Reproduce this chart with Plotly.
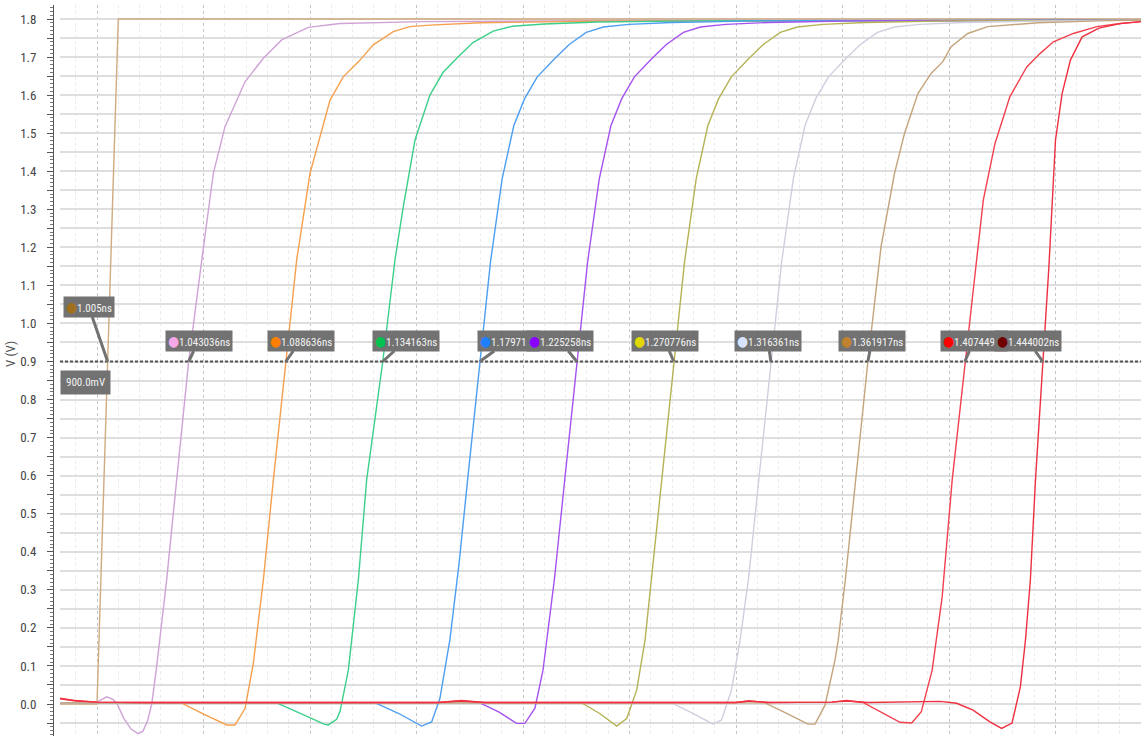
import numpy as np
import plotly.graph_objects as go

# ---------------------------------------------------------------------------
# Transient simulation: input step and ten delayed output edges (time in ns, V)
# ---------------------------------------------------------------------------
T_INPUT = [0.9826, 1.000, 1.010, 1.4901]
V_INPUT = [0.000, 0.000, 1.800, 1.800]

T_PINK = [0.9826, 0.9950, 1.0000, 1.0045, 1.0075, 1.0095, 1.0125, 1.0160, 1.0192, 1.0215,
          1.0237, 1.0257, 1.0280, 1.0327, 1.0374, 1.043036, 1.0492, 1.0546, 1.0601, 1.0695,
          1.0781, 1.0867, 1.0992, 1.1141, 1.1530, 1.2500, 1.4901]
V_PINK = [0.003, 0.003, 0.005, 0.019, 0.012, 0.000, -0.037, -0.066, -0.078, -0.072,
          -0.045, 0.000, 0.098, 0.326, 0.589, 0.900, 1.167, 1.394, 1.517, 1.635,
          1.697, 1.745, 1.778, 1.788, 1.793, 1.796, 1.797]

T_ORANGE = [0.9826, 1.0398, 1.0503, 1.0609, 1.0648, 1.0695, 1.0734, 1.0781, 1.0828, 1.088636,
            1.09375, 1.1000, 1.1094, 1.1156, 1.1235, 1.1297, 1.1391, 1.1469, 1.1563, 1.1800,
            1.2300, 1.4901]
V_ORANGE = [0.003, 0.002, -0.027, -0.055, -0.055, -0.012, 0.107, 0.326, 0.589, 0.900,
            1.167, 1.394, 1.587, 1.648, 1.692, 1.732, 1.767, 1.780, 1.784, 1.790,
            1.794, 1.797]

T_GREEN = [0.9826, 1.0844, 1.0965, 1.1066, 1.1086, 1.1125, 1.1141, 1.1180, 1.1227, 1.1266,
           1.134163, 1.1399, 1.1438, 1.1493, 1.1563, 1.1625, 1.1695, 1.1765, 1.1860, 1.1950,
           1.2100, 1.2350, 1.2800, 1.4901]
V_GREEN = [0.003, 0.003, -0.027, -0.053, -0.055, -0.040, -0.020, 0.089, 0.326, 0.589,
           0.900, 1.167, 1.307, 1.482, 1.600, 1.660, 1.700, 1.738, 1.768, 1.781,
           1.787, 1.792, 1.795, 1.797]

T_BLUE = [0.9826, 1.1307, 1.1417, 1.1502, 1.1524, 1.1571, 1.1610, 1.1657, 1.1700, 1.1742,
          1.17971, 1.1847, 1.1902, 1.1957, 1.2007, 1.2067, 1.2147, 1.2217, 1.2297, 1.2377,
          1.2497, 1.2697, 1.3097, 1.4901]
V_BLUE = [0.003, 0.003, -0.025, -0.052, -0.058, -0.047, 0.015, 0.170, 0.370, 0.600,
          0.900, 1.160, 1.380, 1.520, 1.590, 1.648, 1.695, 1.733, 1.765, 1.779,
          1.786, 1.791, 1.795, 1.797]

T_PURPLE = [0.9826, 1.1798, 1.1890, 1.1970, 1.2009, 1.2056, 1.2094, 1.2148, 1.2198, 1.225258,
            1.2303, 1.2358, 1.2413, 1.2463, 1.2523, 1.2603, 1.2673, 1.2753, 1.2833, 1.2953,
            1.3153, 1.3553, 1.4901]
V_PURPLE = [0.003, 0.003, -0.022, -0.051, -0.051, -0.011, 0.089, 0.330, 0.600, 0.900,
            1.160, 1.380, 1.520, 1.590, 1.648, 1.695, 1.733, 1.765, 1.779, 1.786,
            1.791, 1.795, 1.797]

T_OLIVE = [0.9826, 1.2276, 1.2360, 1.2440, 1.2487, 1.2534, 1.2573, 1.2603, 1.2653, 1.270776,
           1.2758, 1.2813, 1.2868, 1.2918, 1.2978, 1.3058, 1.3128, 1.3208, 1.3288, 1.3408,
           1.3608, 1.4008, 1.4901]
V_OLIVE = [0.003, 0.003, -0.025, -0.058, -0.038, 0.037, 0.168, 0.330, 0.600, 0.900,
           1.160, 1.380, 1.520, 1.590, 1.648, 1.695, 1.733, 1.765, 1.779, 1.786,
           1.791, 1.795, 1.797]

T_GRAY = [0.9826, 1.2698, 1.2800, 1.2893, 1.2932, 1.2979, 1.3019, 1.3059, 1.3109, 1.316361,
          1.3214, 1.3269, 1.3324, 1.3374, 1.3434, 1.3514, 1.3584, 1.3664, 1.3744, 1.3864,
          1.4064, 1.4464, 1.4901]
V_GRAY = [0.003, 0.003, -0.025, -0.053, -0.042, 0.037, 0.168, 0.330, 0.600, 0.900,
          1.160, 1.380, 1.520, 1.590, 1.648, 1.695, 1.733, 1.765, 1.779, 1.786,
          1.791, 1.795, 1.797]

T_TAN = [0.9826, 1.3136, 1.3240, 1.3338, 1.3371, 1.3418, 1.3465, 1.3480, 1.3514, 1.3564,
         1.361917, 1.3681, 1.3744, 1.3791, 1.3854, 1.3916, 1.3971, 1.4010, 1.4088, 1.4182,
         1.4417, 1.4700, 1.4901]
V_TAN = [0.003, 0.003, -0.025, -0.053, -0.053, -0.003, 0.116, 0.168, 0.330, 0.600,
         0.900, 1.202, 1.394, 1.499, 1.604, 1.657, 1.688, 1.727, 1.762, 1.780,
         1.790, 1.795, 1.797]

T_RED1 = [0.9826, 0.9900, 1.0000, 1.0200, 1.1600, 1.1710, 1.1820, 1.3000, 1.3060, 1.3150,
          1.3450, 1.3520, 1.3596, 1.3690, 1.3770, 1.3825, 1.3870, 1.3921, 1.3968, 1.4015,
          1.407449, 1.4114, 1.4161, 1.4216, 1.4286, 1.4365, 1.4427, 1.4490, 1.4584, 1.4694,
          1.4803, 1.4901]
V_RED1 = [0.015, 0.009, 0.005, 0.004, 0.004, 0.009, 0.004, 0.004, 0.008, 0.004,
          0.005, 0.009, 0.004, -0.025, -0.048, -0.050, -0.020, 0.089, 0.282, 0.589,
          0.900, 1.088, 1.324, 1.473, 1.596, 1.674, 1.709, 1.740, 1.762, 1.780,
          1.788, 1.793]

T_RED2 = [0.9826, 0.9900, 1.0000, 1.0200, 1.1600, 1.1710, 1.1820, 1.3000, 1.3060, 1.3150,
          1.3450, 1.3520, 1.3620, 1.3850, 1.3958, 1.4036, 1.4113, 1.4192, 1.4247, 1.4296,
          1.4335, 1.4359, 1.4382, 1.4406, 1.444002, 1.4469, 1.4500, 1.4531, 1.4570, 1.4625,
          1.4704, 1.4803, 1.4901]
V_RED2 = [0.014, 0.008, 0.005, 0.004, 0.004, 0.008, 0.004, 0.004, 0.008, 0.004,
          0.005, 0.008, 0.004, 0.005, 0.007, 0.002, -0.016, -0.047, -0.064, -0.050,
          0.045, 0.168, 0.326, 0.589, 0.900, 1.149, 1.482, 1.604, 1.692, 1.753,
          1.776, 1.788, 1.793]

# 50 % crossing cursors (ns) and the threshold they are measured at (V)
THRESHOLD = 0.9
CURSOR_TIMES = [1.005, 1.043036, 1.088636, 1.134163, 1.17971, 1.225258,
                1.270776, 1.316361, 1.361917, 1.407449, 1.444002]

# ---------------------------------------------------------------------------
# Styling
# ---------------------------------------------------------------------------
SERIES = [
    (T_INPUT, V_INPUT, "#d0aa80"),
    (T_PINK, V_PINK, "#cfa3d6"),
    (T_ORANGE, V_ORANGE, "#f6a04d"),
    (T_GREEN, V_GREEN, "#3ccf8a"),
    (T_BLUE, V_BLUE, "#4d9ff2"),
    (T_PURPLE, V_PURPLE, "#a653f0"),
    (T_OLIVE, V_OLIVE, "#b5b256"),
    (T_GRAY, V_GRAY, "#cfcfe0"),
    (T_TAN, V_TAN, "#c4a47c"),
    (T_RED1, V_RED1, "#f2404f"),
    (T_RED2, V_RED2, "#ef2f3f"),
]
CURSOR_DOT_COLORS = ["#a0701e", "#f4a8e8", "#ff7f00", "#00c050", "#1e7fff", "#8a00ff",
                     "#e0d800", "#d8e4ff", "#c0822e", "#ff0000", "#700000"]
CURSOR_BOX_SHIFT = [(-19, -55), (10, -21), (15, -21), (23, -21), (29, -21), (-17, -21),
                    (-9, -21), (-3, -21), (4, -21), (9, -21), (-15, -21)]

LABEL_FONT = "Liberation Sans Narrow, Roboto Condensed, DejaVu Sans Condensed, Liberation Sans, sans-serif"
BOX_GRAY = "#727272"

W, H = 1141, 736
LEFT = 53
PLOT_LEFT = 60
X_RANGE = [0.98263, 1.49014]
Y_RANGE = [-0.0841, 1.8368]

fig = go.Figure()
for t, v, color in SERIES:
    fig.add_trace(go.Scatter(x=t, y=v, mode="lines",
                             line=dict(color=color, width=1.4),
                             hoverinfo="skip", showlegend=False))

# horizontal threshold cursor
fig.add_shape(type="line", xref="x domain", x0=0, x1=1, yref="y",
              y0=THRESHOLD, y1=THRESHOLD,
              line=dict(color="#555555", width=2, dash="3px,2px"))

annotations = []
for tc, dot, (ax, ay) in zip(CURSOR_TIMES, CURSOR_DOT_COLORS, CURSOR_BOX_SHIFT):
    annotations.append(dict(
        x=tc, y=THRESHOLD, xref="x", yref="y",
        text=f"<span style='color:{dot};font-size:14px'>●</span>{tc:.7g}ns",
        showarrow=True, arrowhead=0, arrowwidth=3, arrowcolor=BOX_GRAY,
        standoff=0, ax=ax, ay=ay,
        bgcolor=BOX_GRAY, borderpad=2,
        font=dict(family=LABEL_FONT, size=11, color="#f2f2f2"),
    ))

annotations.append(dict(
    x=(85 - LEFT) / (W - LEFT), xref="paper", xanchor="center",
    y=THRESHOLD, yref="y", yshift=-21,
    text=f"{THRESHOLD * 1000:.1f}mV", showarrow=False,
    bgcolor=BOX_GRAY, borderpad=5,
    font=dict(family=LABEL_FONT, size=11, color="#f2f2f2"),
))

annotations.append(dict(
    x=(11 - LEFT) / (W - LEFT), xref="paper", xanchor="center",
    y=0.92, yref="y", yanchor="middle",
    text="V (V)", textangle=-90, showarrow=False,
    font=dict(family=LABEL_FONT, size=13, color="#555555"),
))

# y grid every 0.05 V, labelled every 0.1 V
Y_GRID = np.round(np.arange(-0.05, 1.8001, 0.05), 2)
Y_TEXT = [f"{v:.1f}" if abs(round(v * 10) - v * 10) < 1e-6 else "" for v in Y_GRID]

fig.update_layout(
    width=W, height=H,
    margin=dict(l=LEFT, r=0, t=5, b=0),
    paper_bgcolor="white", plot_bgcolor="white",
    annotations=annotations,
    xaxis=dict(
        domain=[(PLOT_LEFT - LEFT) / (W - LEFT), 1],
        range=X_RANGE, showticklabels=False, ticks="", showline=False, zeroline=False,
        showgrid=True, tick0=1.0, dtick=0.05,
        gridcolor="#c4c4c4", gridwidth=1, griddash="dot",
        minor=dict(dtick=0.01, tick0=1.0, showgrid=True, gridcolor="#ebebeb", gridwidth=1),
    ),
    yaxis=dict(
        range=Y_RANGE, anchor="free", position=0,
        tickmode="array", tickvals=Y_GRID, ticktext=Y_TEXT,
        ticks="outside", ticklen=6, tickcolor="#555555",
        showline=True, linecolor="#555555", linewidth=1,
        showgrid=True, gridcolor="#dedede", gridwidth=1.5, zeroline=False,
        tickfont=dict(family=LABEL_FONT, size=13, color="#444444"),
        ticklabelstandoff=8,
        minor=dict(dtick=0.01, tick0=0, ticks="outside", ticklen=3,
                   tickcolor="#777777", showgrid=False),
    ),
)

fig.write_html("out.html")
